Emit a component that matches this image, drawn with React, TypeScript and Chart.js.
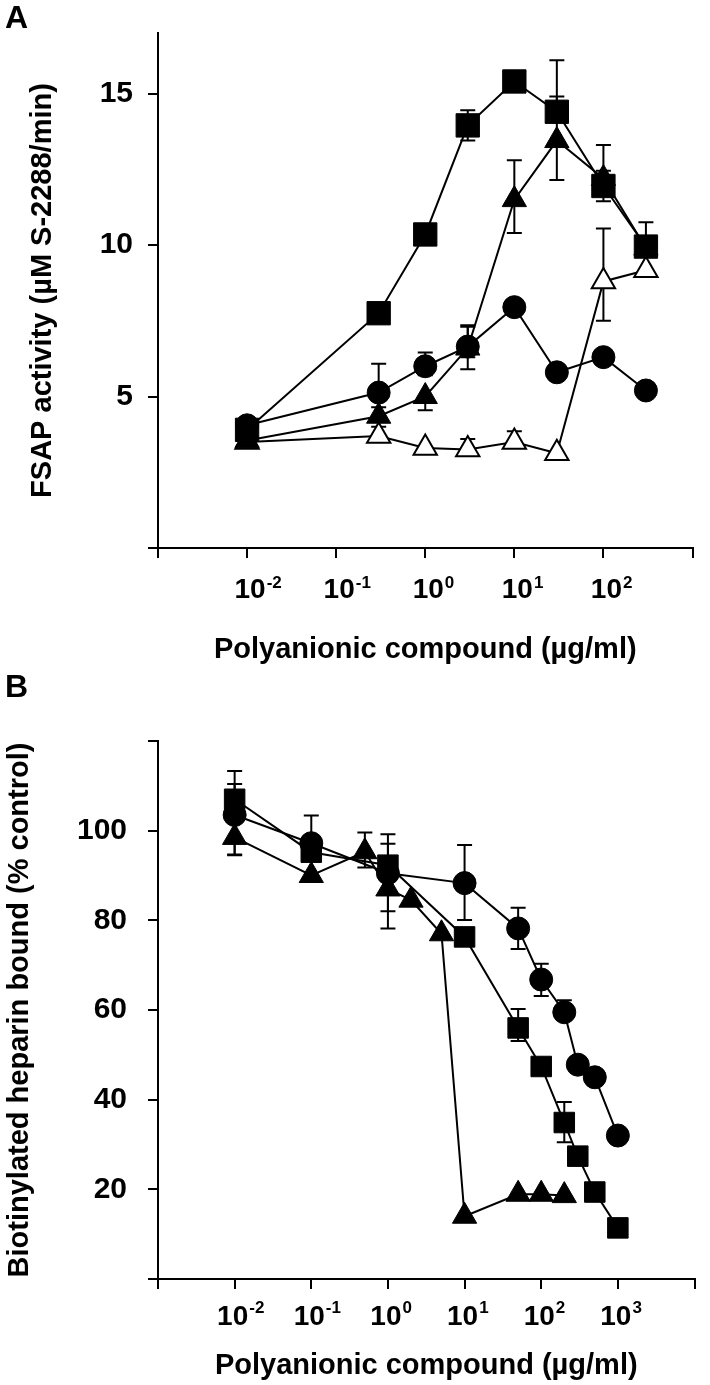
import React, { useEffect, useRef } from 'react';
import { Chart, registerables } from 'chart.js';

Chart.register(...registerables);

const FONT = '"Liberation Sans", Arial, Helvetica, sans-serif';

// ---------------- Panel A data ----------------
const letterA = 'A';
const concA = [0.01, 0.3, 1, 3, 10, 30, 100, 300];
const squareA = [3.9, 7.75, 10.35, 13.95, 15.4, 14.4, 11.95, 9.95];
const squareAUp = [0, 0, 0, 0.5, 0, 1.7, 0.5, 0.8];
const squareADown = [0, 0, 0, 0.5, 0, 0, 0.5, 0];
const triFilledA = [3.55, 4.35, 5.0, 6.6, 11.5, 13.45, 12.2, 9.9];
const triFilledAUp = [0, 0.3, 0, 0.7, 1.3, 1.45, 1.1, 0];
const triFilledADown = [0, 0, 0.45, 0.7, 1.1, 1.3, 0, 0];
const circleA = [4.05, 5.13, 6.0, 6.65, 7.95, 5.8, 6.3, 5.2];
const circleAUp = [0, 0.95, 0.45, 0.7, 0, 0, 0, 0];
const circleADown = [0, 0, 0.3, 0.35, 0, 0, 0, 0];
const triOpenA = [3.5, 3.7, 3.3, 3.25, 3.5, 3.13, 8.8, 9.17];
const triOpenAUp = [0, 0.3, 0, 0.35, 0.35, 0, 1.75, 0];
const triOpenADown = [0, 0, 0, 0, 0, 0, 1.3, 0];
const xTicksA = [1e-3, 1e-2, 1e-1, 1, 10, 100, 1000];
const xLabelsA = [1e-2, 1e-1, 1, 10, 100];
const yTicksA = [0, 5, 10, 15];
const yLabelsA = [5, 10, 15];
const xTitleA = 'Polyanionic compound (µg/ml)';
const yTitleA = 'FSAP activity (µM S-2288/min)';

// ---------------- Panel B data ----------------
const letterB = 'B';
const concBCircle = [0.01, 0.1, 1, 10, 50, 100, 200, 300, 500, 1000];
const circleB = [103.5, 97.2, 90.5, 88.3, 78.2, 66.8, 59.5, 47.8, 45, 32];
const circleBUp = [9.8, 6.2, 6.6, 8.5, 4.6, 3.5, 2.7, 0, 0, 0];
const circleBDown = [9, 0, 12.3, 8.2, 4.6, 3.7, 0, 0, 0, 0];
const concBSquare = [0.01, 0.1, 1, 10, 50, 100, 200, 300, 500, 1000];
const squareB = [107, 95.2, 92.3, 76.3, 56, 47.4, 34.9, 27.4, 19.4, 11.4];
const squareBUp = [3.4, 0, 6.9, 0, 4.2, 0, 4.6, 0, 0, 0];
const squareBDown = [0, 0, 0, 0, 2.9, 0, 4.4, 0, 0, 0];
const concBTriangle = [0.01, 0.1, 0.5, 1, 2, 5, 10, 50, 100, 200];
const triangleB = [98.5, 90, 95.3, 87, 84.5, 77, 14, 18.9, 18.9, 18.6];
const triangleBUp = [0, 0, 4.3, 0, 0, 0, 0, 0, 0, 0];
const triangleBDown = [3.8, 0, 3.5, 5, 0, 0, 0, 0, 0, 0];
const xTicksB = [1e-3, 1e-2, 1e-1, 1, 10, 100, 1000, 10000];
const xLabelsB = [1e-2, 1e-1, 1, 10, 100, 1000];
const yTicksB = [0, 20, 40, 60, 80, 100, 120];
const yLabelsB = [20, 40, 60, 80, 100];
const xTitleB = 'Polyanionic compound (µg/ml)';
const yTitleB = 'Biotinylated heparin bound (% control)';

// ---------------- helpers ----------------
function ellipseMarker(w: number, h: number) {
  const c = document.createElement('canvas');
  c.width = w + 2;
  c.height = h + 2;
  const g = c.getContext('2d')!;
  g.fillStyle = '#000';
  g.beginPath();
  g.ellipse((w + 2) / 2, (h + 2) / 2, w / 2, h / 2, 0, 0, Math.PI * 2);
  g.fill();
  return c;
}

type SeriesSpec = {
  xs: number[];
  ys: number[];
  up: number[];
  down: number[];
  marker: any;
  filled: boolean;
  radius: number;
};

function makeDataset(s: SeriesSpec) {
  return {
    data: s.xs.map((x, i) => ({ x, y: s.ys[i] })),
    borderColor: '#000',
    backgroundColor: '#000',
    borderWidth: 2,
    pointStyle: s.marker,
    pointRadius: s.radius,
    pointHoverRadius: s.radius,
    pointBackgroundColor: s.filled ? '#000' : '#fff',
    pointBorderColor: '#000',
    pointBorderWidth: s.filled ? 1 : 2,
    tension: 0,
    fill: false,
    clip: false,
    errUp: s.up,
    errDown: s.down,
  } as any;
}

const errorBarPlugin = {
  id: 'errorBars',
  beforeDatasetsDraw(chart: any) {
    const { ctx } = chart;
    const xs = chart.scales.x;
    const ys = chart.scales.y;
    const cap = 7.5;
    ctx.save();
    ctx.strokeStyle = '#000';
    ctx.lineWidth = 2;
    chart.data.datasets.forEach((ds: any) => {
      ds.data.forEach((p: any, i: number) => {
        const px = xs.getPixelForValue(p.x);
        const py = ys.getPixelForValue(p.y);
        const up = (ds.errUp && ds.errUp[i]) || 0;
        const dn = (ds.errDown && ds.errDown[i]) || 0;
        const seg = (v: number) => {
          const t = ys.getPixelForValue(v);
          ctx.beginPath();
          ctx.moveTo(px, py);
          ctx.lineTo(px, t);
          ctx.moveTo(px - cap, t);
          ctx.lineTo(px + cap, t);
          ctx.stroke();
        };
        if (up > 0) seg(p.y + up);
        if (dn > 0) seg(p.y - dn);
      });
    });
    ctx.restore();
  },
};

const decorPlugin = {
  id: 'decor',
  afterDraw(chart: any, _args: any, o: any) {
    const { ctx, chartArea } = chart;
    const xs = chart.scales.x;
    ctx.save();
    ctx.fillStyle = '#000';
    ctx.textBaseline = 'alphabetic';
    (o.labels as number[]).forEach((v) => {
      const exp = Math.round(Math.log10(v));
      const px = xs.getPixelForValue(v);
      const base = chartArea.bottom + o.labelBase;
      ctx.font = `bold ${o.baseSize}px ${FONT}`;
      ctx.textAlign = 'center';
      const w = ctx.measureText('10').width;
      const cx = px + o.labelShift;
      ctx.fillText('10', cx, base);
      ctx.font = `bold ${o.expSize}px ${FONT}`;
      ctx.textAlign = 'left';
      ctx.fillText(String(exp), cx + w / 2 + 1, base - o.expRaise);
    });
    ctx.font = `bold 32px ${FONT}`;
    ctx.textAlign = 'left';
    ctx.fillText(o.letter, o.letterX, o.letterY);
    ctx.restore();
  },
};

type PanelSpec = {
  height: number;
  padTop: number;
  padRight: number;
  yWidth: number;
  xHeight: number;
  xMin: number;
  xMax: number;
  yMin: number;
  yMax: number;
  xTicks: number[];
  xLabels: number[];
  yTicks: number[];
  yLabels: number[];
  xTitle: string;
  yTitle: string;
  xTitlePadBottom: number;
  yTitlePadTop: number;
  yTickPadding: number;
  series: SeriesSpec[];
  decor: any;
};

function buildConfig(p: PanelSpec): any {
  const font = (size: number) => ({ family: FONT, size, weight: 'bold', lineHeight: 1.2 });
  const grid = { drawOnChartArea: false, drawTicks: true, tickLength: 10, color: '#000', lineWidth: 2 };
  const border = { display: true, color: '#000', width: 2 };
  return {
    type: 'line',
    data: { datasets: p.series.map(makeDataset) },
    options: {
      responsive: false,
      animation: false,
      devicePixelRatio: 1,
      events: [],
      layout: { padding: { left: 0, top: p.padTop, right: p.padRight, bottom: 0 } },
      plugins: {
        legend: { display: false },
        tooltip: { enabled: false },
        decor: p.decor,
      },
      scales: {
        x: {
          type: 'logarithmic',
          min: p.xMin,
          max: p.xMax,
          afterBuildTicks: (s: any) => {
            s.ticks = p.xTicks.map((v) => ({ value: v }));
          },
          afterFit: (s: any) => {
            s.height = p.xHeight;
          },
          ticks: { display: false },
          grid,
          border,
          title: {
            display: true,
            text: p.xTitle,
            color: '#000',
            font: font(29),
            padding: { top: 0, bottom: p.xTitlePadBottom },
          },
        },
        y: {
          type: 'linear',
          min: p.yMin,
          max: p.yMax,
          afterBuildTicks: (s: any) => {
            s.ticks = p.yTicks.map((v) => ({ value: v }));
          },
          afterFit: (s: any) => {
            s.width = p.yWidth;
          },
          ticks: {
            color: '#000',
            font: font(30),
            padding: p.yTickPadding,
            callback: (v: any) => (p.yLabels.includes(Number(v)) ? String(v) : ''),
          },
          grid,
          border,
          title: {
            display: true,
            text: p.yTitle,
            color: '#000',
            font: font(29),
            padding: { top: p.yTitlePadTop, bottom: 0 },
          },
        },
      },
    },
    plugins: [errorBarPlugin, decorPlugin],
  };
}

function Panel({ spec, top }: { spec: PanelSpec; top: number }) {
  const ref = useRef<HTMLCanvasElement | null>(null);
  useEffect(() => {
    if (!ref.current) return;
    const chart = new Chart(ref.current, buildConfig(spec));
    return () => chart.destroy();
  }, [spec]);
  return (
    <canvas
      ref={ref}
      width={710}
      height={spec.height}
      style={{ position: 'absolute', left: 0, top, width: 710, height: spec.height }}
    />
  );
}

const specA: PanelSpec = {
  height: 680,
  padTop: 23,
  padRight: 9,
  yWidth: 158,
  xHeight: 132,
  xMin: 1e-3,
  xMax: 1e3,
  yMin: 0,
  yMax: 17,
  xTicks: xTicksA,
  xLabels: xLabelsA,
  yTicks: yTicksA,
  yLabels: yLabelsA,
  xTitle: xTitleA,
  yTitle: yTitleA,
  xTitlePadBottom: 12.6,
  yTitlePadTop: 25.6,
  yTickPadding: 15,
  series: [
    { xs: concA, ys: squareA, up: squareAUp, down: squareADown, marker: 'rect', filled: true, radius: 16.5 },
    { xs: concA, ys: triFilledA, up: triFilledAUp, down: triFilledADown, marker: 'triangle', filled: true, radius: 14 },
    { xs: concA, ys: circleA, up: circleAUp, down: circleADown, marker: 'circle', filled: true, radius: 11.5 },
    { xs: concA, ys: triOpenA, up: triOpenAUp, down: triOpenADown, marker: 'triangle', filled: false, radius: 13.5 },
  ],
  decor: {
    labels: xLabelsA,
    labelBase: 50,
    labelShift: 3,
    baseSize: 28,
    expSize: 17,
    expRaise: 10,
    letter: letterA,
    letterX: 5,
    letterY: 28,
  },
};

const specB: PanelSpec = {
  height: 725,
  padTop: 81,
  padRight: 4,
  yWidth: 158,
  xHeight: 106,
  xMin: 1e-3,
  xMax: 1e4,
  yMin: 0,
  yMax: 120,
  xTicks: xTicksB,
  xLabels: xLabelsB,
  yTicks: yTicksB,
  yLabels: yLabelsB,
  xTitle: xTitleB,
  yTitle: yTitleB,
  xTitlePadBottom: 1.6,
  yTitlePadTop: 2.6,
  yTickPadding: 21,
  series: [
    { xs: concBCircle, ys: circleB, up: circleBUp, down: circleBDown, marker: 'circle', filled: true, radius: 11.5 },
    { xs: concBSquare, ys: squareB, up: squareBUp, down: squareBDown, marker: 'rect', filled: true, radius: 14.5 },
    { xs: concBTriangle, ys: triangleB, up: triangleBUp, down: triangleBDown, marker: 'triangle', filled: true, radius: 14 },
  ],
  decor: {
    labels: xLabelsB,
    labelBase: 46,
    labelShift: -2,
    baseSize: 28,
    expSize: 17,
    expRaise: 12,
    letter: letterB,
    letterX: 5,
    letterY: 37,
  },
};

export default function App() {
  return (
    <div style={{ position: 'absolute', left: 0, top: 0, width: 710, height: 1385, background: '#fff', overflow: 'hidden' }}>
      <Panel spec={specA} top={0} />
      <Panel spec={specB} top={660} />
    </div>
  );
}
